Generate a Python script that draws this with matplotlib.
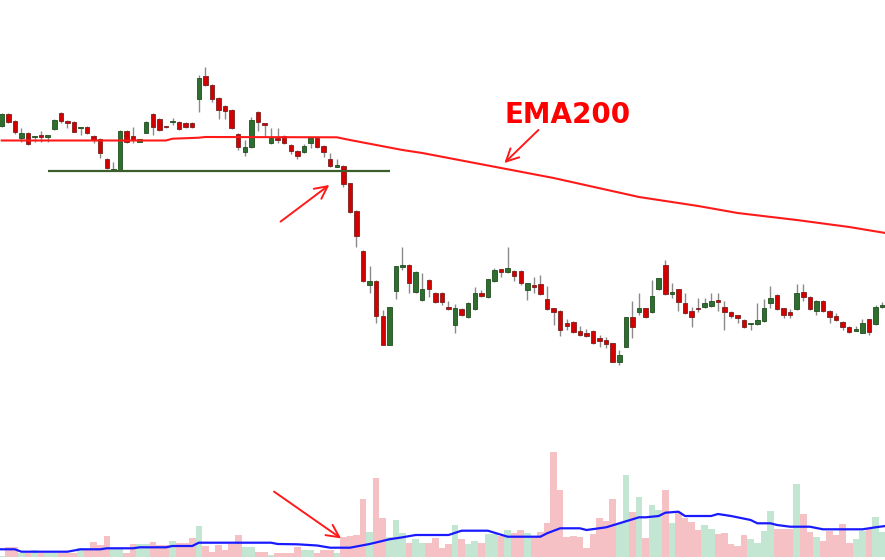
import numpy as np
import matplotlib
matplotlib.use("Agg")
import matplotlib.pyplot as plt
from matplotlib.patches import Rectangle

# daily candles
opens = [47.4, 48.6, 47.9, 46.23, 46.73, 46.3, 46.4, 46.34, 47.1, 48.67,
         47.93, 47.83, 47.17, 47.33, 46.4, 46.13, 44.07, 43.0, 43.0, 46.93,
         46.4, 45.83, 46.73, 48.57, 48.07, 47.37, 47.77, 47.83, 47.67, 47.67,
         50.07, 52.4, 51.5, 50.17, 49.4, 49.0, 46.6, 44.83, 45.27, 48.83,
         47.67, 45.67, 46.07, 46.4, 45.5, 44.93, 44.83, 45.67, 46.17, 45.4,
         44.07, 43.33, 43.4, 41.67, 38.93, 34.93, 31.5, 31.93, 28.4, 25.5,
         30.9, 33.33, 33.53, 30.8, 30.0, 32.0, 30.73, 30.73, 29.33, 27.5,
         29.1, 28.33, 29.1, 30.73, 30.33, 31.93, 33.07, 32.83, 32.93, 32.93,
         31.0, 31.43, 31.6, 30.07, 29.17, 28.93, 27.73, 27.83, 26.93, 26.67,
         26.93, 26.17, 26.0, 25.67, 23.83, 25.33, 28.27, 28.83, 29.17, 28.83,
         31.07, 33.5, 30.6, 31.07, 29.67, 28.9, 29.2, 29.33, 29.4, 29.93,
         29.33, 28.83, 28.47, 28.0, 27.6, 27.6, 27.93, 29.67, 30.5, 29.17,
         28.77, 29.07, 30.83, 30.33, 28.93, 29.93, 28.9, 28.4, 27.83, 27.33,
         26.93, 26.73, 28.07, 27.6, 29.33]
highs = [48.7, 48.7, 48.0, 47.2, 46.8, 46.4, 46.93, 46.4, 48.1, 48.83,
         48.0, 47.93, 47.33, 47.4, 46.5, 46.2, 44.2, 43.83, 47.0, 47.0,
         47.27, 46.1, 47.9, 48.7, 48.2, 47.4, 48.17, 47.9, 47.83, 47.8,
         52.5, 53.3, 51.6, 50.3, 49.5, 49.1, 46.7, 46.0, 48.27, 48.93,
         47.75, 47.17, 47.17, 46.5, 45.6, 45.03, 45.6, 46.25, 46.25, 45.5,
         44.73, 44.07, 43.5, 41.75, 39.0, 35.0, 33.4, 32.0, 29.0, 29.33,
         33.4, 35.27, 33.6, 32.9, 32.67, 32.1, 30.8, 30.8, 29.93, 29.6,
         29.2, 29.8, 31.33, 31.0, 32.15, 33.2, 33.15, 35.27, 33.0, 33.0,
         31.7, 32.27, 32.5, 31.4, 29.25, 29.0, 28.07, 27.9, 27.4, 27.07,
         27.0, 26.5, 26.27, 25.75, 25.0, 28.3, 29.93, 30.73, 29.25, 32.0,
         32.2, 34.0, 31.67, 31.15, 30.67, 29.33, 30.23, 30.17, 30.73, 30.73,
         29.93, 28.9, 28.55, 28.07, 27.73, 29.67, 30.07, 31.4, 30.57, 29.25,
         29.07, 31.6, 31.6, 30.4, 30.0, 30.0, 28.97, 28.67, 27.9, 27.4,
         27.4, 28.07, 28.15, 29.5, 29.83]
lows = [47.3, 47.7, 46.6, 45.83, 45.5, 45.83, 45.83, 45.83, 47.0, 47.67,
        47.23, 46.8, 46.5, 46.6, 45.73, 44.17, 43.1, 43.0, 43.0, 45.7,
        45.73, 45.8, 46.7, 46.5, 46.9, 47.23, 47.5, 47.0, 47.2, 47.2,
        48.83, 51.4, 49.8, 48.07, 48.07, 47.1, 45.0, 44.4, 45.2, 46.93,
        46.33, 45.6, 45.73, 45.6, 44.6, 44.07, 44.75, 45.2, 45.25, 44.27,
        43.3, 43.3, 41.27, 38.75, 35.27, 31.85, 30.73, 27.73, 25.5, 25.5,
        30.1, 33.0, 30.73, 30.7, 29.9, 30.33, 29.75, 29.5, 29.0, 26.67,
        28.4, 28.25, 29.0, 30.3, 30.25, 31.85, 32.27, 32.75, 31.93, 31.5,
        30.0, 30.73, 30.5, 29.0, 27.5, 26.4, 27.0, 26.75, 26.45, 26.35,
        25.62, 25.27, 25.17, 23.8, 23.5, 25.3, 26.17, 28.5, 28.25, 28.75,
        31.0, 30.55, 30.17, 28.93, 28.6, 27.27, 28.83, 29.25, 29.32, 28.93,
        27.0, 28.17, 27.67, 27.25, 27.0, 27.53, 27.85, 29.17, 29.0, 28.17,
        28.17, 29.0, 29.93, 29.0, 28.5, 28.85, 27.73, 27.93, 27.0, 26.75,
        26.87, 26.67, 26.5, 27.53, 29.17]
closes = [48.6, 47.8, 46.83, 46.73, 45.6, 46.36, 46.34, 46.4, 48.0, 47.9,
          47.67, 46.83, 47.33, 46.67, 46.0, 44.73, 43.17, 43.15, 46.93, 45.8,
          46.0, 46.07, 47.83, 47.33, 47.0, 47.3, 47.87, 47.1, 47.27, 47.27,
          52.17, 51.5, 50.1, 49.0, 48.93, 47.17, 45.27, 45.27, 48.0, 47.83,
          47.47, 46.17, 46.02, 45.67, 44.9, 44.4, 45.4, 46.17, 45.33, 44.83,
          43.37, 43.47, 41.6, 38.83, 36.4, 31.93, 31.9, 28.4, 25.5, 29.33,
          33.4, 33.5, 31.67, 32.8, 31.1, 31.07, 29.83, 29.83, 29.07, 29.17,
          28.5, 29.67, 30.67, 30.4, 32.07, 33.0, 32.83, 33.17, 32.4, 31.73,
          31.67, 31.33, 30.6, 29.07, 28.83, 27.0, 27.4, 26.83, 26.5, 26.4,
          25.67, 25.93, 25.6, 23.83, 24.5, 28.27, 27.27, 29.17, 28.33, 30.4,
          32.17, 30.6, 30.83, 29.83, 28.67, 28.33, 29.07, 29.67, 29.93, 29.83,
          28.77, 28.4, 28.17, 27.33, 27.73, 28.0, 29.17, 30.23, 29.07, 28.5,
          28.5, 30.67, 30.33, 29.07, 29.93, 28.93, 28.33, 28.0, 27.33, 26.83,
          27.07, 27.73, 26.83, 29.33, 29.5]

# volume (thousands)
volume = [10, 97, 97, 43, 43, 70, 40, 40, 40, 43,
          43, 43, 87, 70, 147, 120, 210, 93, 93, 43,
          130, 130, 130, 150, 117, 117, 160, 137, 137, 187,
          310, 110, 50, 117, 70, 130, 220, 103, 103, 53,
          53, 20, 43, 43, 43, 103, 70, 70, 43, 70,
          70, 43, 203, 210, 220, 577, 253, 793, 387, 203,
          370, 237, 143, 177, 143, 137, 193, 87, 130, 320,
          177, 130, 163, 143, 230, 230, 210, 270, 237, 270,
          237, 203, 253, 343, 1050, 670, 197, 210, 197, 87,
          230, 387, 360, 577, 337, 820, 453, 597, 187, 520,
          470, 670, 337, 453, 387, 353, 270, 320, 277, 230,
          243, 130, 110, 220, 177, 143, 263, 460, 277, 277,
          277, 730, 430, 253, 203, 163, 263, 220, 327, 143,
          177, 263, 277, 397, 253]

# EMA200 and volume average, read at a few bars
ema_idx = [0, 25, 26, 30, 31, 51, 53, 61, 64, 76, 84, 97, 106, 112, 121, 129, 134.5]
ema_val = [45.95, 45.95, 46.13, 46.23, 46.3, 46.27, 46.0, 45.0, 44.7, 43.2,
           42.2, 40.3, 39.4, 38.7, 38.0, 37.3, 36.7]
vma_idx = [-0.3, 2, 3, 10, 12, 15, 16, 20, 21, 25, 26, 29, 30, 41, 42, 45, 48,
           50, 53, 56, 59, 61, 63, 68, 70, 74, 77, 82, 83, 85, 88, 89, 92, 94,
           96, 97, 98, 100, 101, 103, 104, 108, 109, 111, 114, 115, 117, 118,
           120, 123, 125, 131, 133, 134.5]
vma_val = [77, 77, 53, 53, 77, 77, 87, 87, 97, 97, 110, 110, 143, 143, 130, 127,
           115, 93, 93, 130, 177, 197, 220, 220, 263, 263, 203, 203, 237, 287,
           287, 270, 297, 337, 377, 397, 397, 410, 443, 453, 410, 410, 430, 410,
           370, 337, 337, 320, 303, 303, 277, 277, 297, 310]

support = 42.9
support_from, support_to = 7.05, 59.1

n = len(closes)
x = np.arange(n)
up = np.array(closes) >= np.array(opens)

fig = plt.figure(figsize=(8.85, 5.6), dpi=100)
ax = fig.add_axes([0, 0, 1, 1])
axv = fig.add_axes([0, 0, 1, 1])
axv.patch.set_alpha(0)
for a in (ax, axv):
    a.set_axis_off()
    a.set_xlim(-0.26, 134.44)
ax.set_ylim(4, 60)
axv.set_ylim(-30, 5570)

# candles
ax.vlines(x, lows, highs, color="#8a8a8a", lw=1, zorder=1)
for i in range(n):
    o, c = opens[i], closes[i]
    bottom = min(o, c)
    h = max(abs(c - o), 0.15)
    if up[i]:
        fc, ec = "#2e6e2e", "#1f4d1f"
    else:
        fc, ec = "#d40000", "#7a2020"
    ax.add_patch(Rectangle((i - 0.34, bottom), 0.68, h, facecolor=fc,
                           edgecolor=ec, lw=0.6, zorder=2))

ax.plot(ema_idx, ema_val, color="#ff1a1a", lw=1.5, zorder=3)
ax.hlines(support, support_from, support_to, color="#3b5e2b", lw=1.6, zorder=3)

ax.text(76.6, 47.67, "EMA200", color="#ff0000", fontsize=20,
        fontweight="bold", va="baseline", ha="left")
arrow = dict(arrowstyle="->,head_length=0.9,head_width=0.45", color="#ff1a1a", lw=1.4)
ax.annotate("", xy=(76.2, 43.5), xytext=(82.0, 47.2), arrowprops=arrow)
ax.annotate("", xy=(50.2, 41.67), xytext=(42.1, 37.67), arrowprops=arrow)

# volume
vcol = ["#c3e6d3" if u else "#f6c1c5" for u in up]
axv.bar(x, volume, width=1.0, color=vcol, zorder=1)
axv.plot(vma_idx, vma_val, color="#1a1aff", lw=1.6, zorder=2)
axv.annotate("", xy=(52.0, 170), xytext=(41.1, 670), arrowprops=arrow)

fig.savefig("out.png", dpi=100)
